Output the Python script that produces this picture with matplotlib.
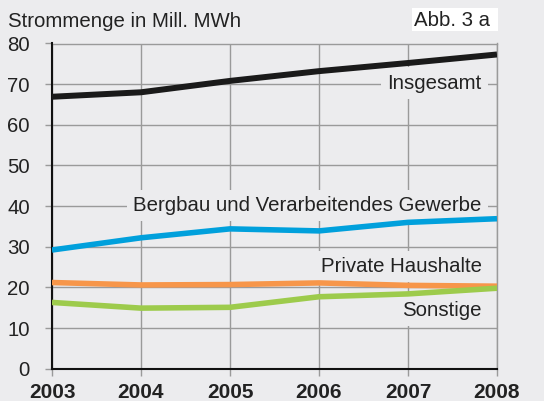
import matplotlib.pyplot as plt
from matplotlib.patches import Rectangle

plt.rcParams['font.family'] = ['Liberation Sans', 'DejaVu Sans']

years = [2003, 2004, 2005, 2006, 2007, 2008]
insgesamt = [66.9, 68.0, 70.8, 73.2, 75.2, 77.3]
bergbau = [29.2, 32.2, 34.4, 33.9, 36.0, 36.9]
haushalte = [21.2, 20.6, 20.7, 21.1, 20.5, 20.3]
sonstige = [16.3, 14.9, 15.1, 17.7, 18.4, 19.8]
yticks = [0, 10, 20, 30, 40, 50, 60, 70, 80]

bg = '#ececee'
grid = '#9a9a9a'
txt = '#222222'
fs = 14.7

fig = plt.figure(figsize=(5.44, 4.01), dpi=100, facecolor=bg)
ax = fig.add_axes([52/544, 1-368.7/401, 445/544, (368.7-43.5)/401])
ax.set_facecolor(bg)

ax.plot(years, insgesamt, color='#1a1a1a', lw=4.3, solid_capstyle='butt', zorder=5)
ax.plot(years, bergbau, color='#00a0dc', lw=4, solid_capstyle='butt', zorder=5)
ax.plot(years, haushalte, color='#f7964a', lw=4, solid_capstyle='butt', zorder=5)
ax.plot(years, sonstige, color='#9dcb4c', lw=4, solid_capstyle='butt', zorder=6)

ax.set_xlim(2003, 2008)
ax.set_ylim(0, 80)
ax.set_xticks(years)
ax.set_yticks(yticks)
ax.set_xticklabels([str(y) for y in years], fontweight='bold', fontsize=15, color=txt)
ax.set_yticklabels([str(v) for v in yticks], fontsize=fs, color=txt)
ax.tick_params(axis='both', color=grid, length=5, width=1)
ax.tick_params(axis='y', pad=11)
ax.tick_params(axis='x', pad=5.5)
ax.grid(True, color=grid, lw=1)
ax.set_axisbelow(True)
for s in ['top', 'right']:
    ax.spines[s].set_color(grid)
    ax.spines[s].set_linewidth(1)
for s in ['left', 'bottom']:
    ax.spines[s].set_color('#111111')
    ax.spines[s].set_linewidth(1.5)
    ax.spines[s].set_zorder(4)

box = dict(boxstyle='square,pad=0.3', facecolor=bg, edgecolor='none')
labels = [('Insgesamt', 68.9), ('Bergbau und Verarbeitendes Gewerbe', 38.8),
          ('Private Haushalte', 23.8), ('Sonstige', 13.0)]
for name, yb in labels:
    ax.text(2007.83, yb, name, ha='right', va='baseline', fontsize=fs,
            color=txt, bbox=box, zorder=3)

fig.text(8/544, 1-27/401, 'Strommenge in Mill. MWh', fontsize=fs, color=txt,
         ha='left', va='baseline')
fig.patches.append(Rectangle((412/544, 1-31/401), 86/544, 23/401,
                             transform=fig.transFigure, facecolor='white',
                             edgecolor='none'))
fig.text(490/544, 1-26/401, 'Abb. 3 a', fontsize=fs, color=txt,
         ha='right', va='baseline')

fig.savefig('out.png', dpi=100, facecolor=bg)
